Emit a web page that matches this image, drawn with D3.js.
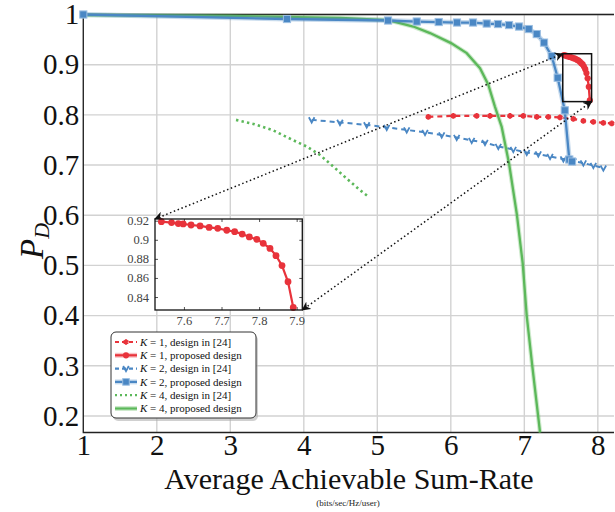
<!DOCTYPE html>
<html>
<head>
<meta charset="utf-8">
<script src="https://cdn.jsdelivr.net/npm/d3@7"></script>
<style>
body { margin: 0; background: #fff; }
svg { display: block; }
svg text { font-family: "Liberation Serif", "DejaVu Serif", serif !important; }
</style>
</head>
<body>
<svg id="chart" width="615" height="512"></svg>
<script>
// tick values
const xTicks = [1, 2, 3, 4, 5, 6, 7, 8];
const yTicks = [0.2, 0.3, 0.4, 0.5, 0.6, 0.7, 0.8, 0.9, 1];
const insetXTicks = [7.6, 7.7, 7.8, 7.9];
const insetYTicks = [0.84, 0.86, 0.88, 0.9, 0.92];

// K = 1, design in [24]
const k1RefX = [5.694, 6.034, 6.352, 6.533, 6.805, 6.986, 7.169, 7.327, 7.486, 7.667, 7.803, 7.939, 8.075, 8.189];
const k1RefY = [0.796, 0.798, 0.798, 0.798, 0.798, 0.798, 0.796, 0.796, 0.795, 0.792, 0.788, 0.786, 0.784, 0.783];

// K = 1, proposed design
const k1PropX = [7.540, 7.567, 7.585, 7.598, 7.619, 7.643, 7.667, 7.690, 7.714, 7.735, 7.755, 7.774, 7.794, 7.811, 7.829, 7.845, 7.861, 7.877, 7.891];
const k1PropY = [0.919, 0.918, 0.917, 0.9166, 0.9155, 0.9145, 0.913, 0.912, 0.910, 0.9085, 0.906, 0.903, 0.9005, 0.8963, 0.891, 0.8834, 0.873, 0.856, 0.829];

// K = 2, design in [24]
const k2RefX = [4.107, 4.492, 4.856, 5.128, 5.40, 5.649, 5.876, 6.080, 6.284, 6.465, 6.646, 6.850, 7.033, 7.190, 7.350, 7.531, 7.667, 7.803, 7.939, 8.075];
const k2RefY = [0.790, 0.785, 0.780, 0.775, 0.770, 0.765, 0.760, 0.755, 0.749, 0.745, 0.737, 0.731, 0.725, 0.722, 0.717, 0.712, 0.708, 0.704, 0.699, 0.694];

// K = 2, proposed design
const k2PropX = [1, 3.771, 5.146, 5.536, 5.835, 6.084, 6.302, 6.488, 6.642, 6.792, 6.928, 7.06, 7.169, 7.268, 7.373, 7.454, 7.55, 7.612, 7.649];
const k2PropY = [1.0, 0.991, 0.988, 0.986, 0.985, 0.984, 0.984, 0.982, 0.981, 0.979, 0.976, 0.971, 0.961, 0.944, 0.917, 0.874, 0.809, 0.711, 0.707];

// K = 4, design in [24]
const k4RefX = [3.078, 3.313, 3.585, 3.835, 4.039, 4.220, 4.401, 4.584, 4.764, 4.878];
const k4RefY = [0.790, 0.782, 0.769, 0.751, 0.737, 0.720, 0.697, 0.673, 0.650, 0.637];

// K = 4, proposed design
const k4PropX = [1, 3, 4.5, 5.146, 5.49, 5.717, 6.003, 6.216, 6.397, 6.51, 6.601, 6.692, 6.792, 6.897, 6.978, 7.033, 7.109, 7.214];
const k4PropY = [0.999, 0.997, 0.993, 0.989, 0.976, 0.963, 0.943, 0.923, 0.893, 0.86, 0.816, 0.776, 0.703, 0.603, 0.504, 0.399, 0.299, 0.167];

const legendLabels = [", design in [24]", ", proposed design", ", design in [24]", ", proposed design", ", design in [24]", ", proposed design"];
const legendK = ["1", "1", "2", "2", "4", "4"];

const RED = "#e8333b", BLUE = "#4a87c4", GREEN = "#5cb85a";

const svg = d3.select("#chart");
const x = d3.scaleLinear().domain([1, 8.22]).range([83.3, 614]);
const y = d3.scaleLinear().domain([0.167, 1]).range([432.5, 14.5]);

const zip = (xs, ys) => xs.map((v, i) => [v, ys[i]]);

// grid
svg.append("g").selectAll("line").data(xTicks).join("line")
	.attr("x1", d => x(d)).attr("x2", d => x(d))
	.attr("y1", y.range()[0]).attr("y2", y.range()[1])
	.attr("stroke", "#d2d2d2").attr("stroke-width", 1.4);
svg.append("g").selectAll("line").data(yTicks).join("line")
	.attr("y1", d => y(d)).attr("y2", d => y(d))
	.attr("x1", x.range()[0]).attr("x2", x.range()[1])
	.attr("stroke", "#d2d2d2").attr("stroke-width", 1.4);

// axes
let xAxis = svg.append("g").attr("transform", "translate(0," + y.range()[0] + ")")
	.call(d3.axisBottom(x).tickValues(xTicks).tickSize(0).tickPadding(2).tickFormat(d3.format("d")));
xAxis.select(".domain").remove();
xAxis.attr("font-family", null);
xAxis.selectAll("text").attr("font-size", 29).attr("fill", "#111");

let yAxis = svg.append("g").attr("transform", "translate(" + x.range()[0] + ",0)")
	.call(d3.axisLeft(y).tickValues(yTicks).tickSize(0).tickPadding(4).tickFormat(d => d === 1 ? "1" : d3.format(".1f")(d)));
yAxis.select(".domain").remove();
yAxis.attr("font-family", null);
yAxis.selectAll("text").attr("font-size", 29).attr("fill", "#111");

// frame
svg.append("path")
	.attr("d", "M" + x.range()[1] + "," + y.range()[1] + "H" + x.range()[0] + "V" + y.range()[0] + "H" + x.range()[1])
	.attr("fill", "none").attr("stroke", "#222").attr("stroke-width", 1.3);

// titles
svg.append("text").attr("x", 349).attr("y", 489).attr("text-anchor", "middle")
	.attr("font-size", 30).attr("fill", "#111").text("Average Achievable Sum-Rate");
svg.append("text").attr("x", 348).attr("y", 506).attr("text-anchor", "middle")
	.attr("font-size", 9).attr("fill", "#222").text("(bits/sec/Hz/user)");
let yl = svg.append("text").attr("transform", "translate(43,241) rotate(-90)")
	.attr("text-anchor", "middle").attr("font-size", 33).attr("fill", "#111");
yl.append("tspan").attr("font-style", "italic").text("P");
yl.append("tspan").attr("font-style", "italic").attr("font-size", 22).attr("dy", 6).text("D");

const line = d3.line().x(d => x(d[0])).y(d => y(d[1]));

function vMark(g, cx, cy, color) {
	g.append("path").attr("d", "M" + (cx - 2.8) + "," + (cy - 2.6) + "L" + cx + "," + (cy + 2.6) + "L" + (cx + 2.8) + "," + (cy - 2.6))
		.attr("fill", "none").attr("stroke", color).attr("stroke-width", 1.8);
}
const aster = d3.symbol().type(d3.symbolAsterisk).size(22);

const plot = svg.append("g");

// K = 4 design in [24]
plot.append("path").attr("d", line(zip(k4RefX, k4RefY)))
	.attr("fill", "none").attr("stroke", GREEN).attr("stroke-width", 2.6).attr("stroke-dasharray", "2.4,3.2");

// K = 2 design in [24]
plot.append("path").attr("d", line(zip(k2RefX, k2RefY)))
	.attr("fill", "none").attr("stroke", BLUE).attr("stroke-width", 2).attr("stroke-dasharray", "5,4");
zip(k2RefX, k2RefY).forEach(d => vMark(plot, x(d[0]), y(d[1]), BLUE));

// K = 1 design in [24]
plot.append("path").attr("d", line(zip(k1RefX, k1RefY)))
	.attr("fill", "none").attr("stroke", RED).attr("stroke-width", 2.2).attr("stroke-dasharray", "5,4");
plot.selectAll(".ast").data(zip(k1RefX, k1RefY)).join("path")
	.attr("transform", d => "translate(" + x(d[0]) + "," + y(d[1]) + ")")
	.attr("d", aster).attr("stroke", RED).attr("stroke-width", 2.2).attr("fill", RED);

// K = 4 proposed
plot.append("path").attr("d", line(zip(k4PropX, k4PropY)))
	.attr("fill", "none").attr("stroke", GREEN).attr("stroke-opacity", 0.3).attr("stroke-width", 4.5);
plot.append("path").attr("d", line(zip(k4PropX, k4PropY)))
	.attr("fill", "none").attr("stroke", GREEN).attr("stroke-width", 2.3);

// K = 2 proposed
plot.append("path").attr("d", line(zip(k2PropX, k2PropY)))
	.attr("fill", "none").attr("stroke", BLUE).attr("stroke-opacity", 0.3).attr("stroke-width", 5);
plot.append("path").attr("d", line(zip(k2PropX, k2PropY)))
	.attr("fill", "none").attr("stroke", BLUE).attr("stroke-width", 2.3);
plot.selectAll(".sq").data(zip(k2PropX, k2PropY)).join("rect")
	.attr("x", d => x(d[0]) - 3.6).attr("y", d => y(d[1]) - 3.6)
	.attr("width", 7.2).attr("height", 7.2)
	.attr("fill", BLUE).attr("stroke", "#9cbfe2").attr("stroke-width", 1);

// K = 1 proposed
plot.append("path").attr("d", line(zip(k1PropX, k1PropY)))
	.attr("fill", "none").attr("stroke", RED).attr("stroke-width", 2.3);
plot.selectAll(".circ").data(zip(k1PropX, k1PropY)).join("circle")
	.attr("cx", d => x(d[0])).attr("cy", d => y(d[1])).attr("r", 3.1).attr("fill", RED);

// inset
const xi = d3.scaleLinear().domain([7.523, 7.915]).range([155, 302.3]);
const yi = d3.scaleLinear().domain([0.8264, 0.9218]).range([310, 219]);

// zoom box on main chart
svg.append("rect")
	.attr("x", x(xi.domain()[0])).attr("y", y(yi.domain()[1]))
	.attr("width", x(xi.domain()[1]) - x(xi.domain()[0]))
	.attr("height", y(yi.domain()[0]) - y(yi.domain()[1]))
	.attr("fill", "none").attr("stroke", "#111").attr("stroke-width", 1.5);

// arrows
const defs = svg.append("defs");
defs.append("marker").attr("id", "arr").attr("viewBox", "0 0 10 10").attr("refX", 9).attr("refY", 5)
	.attr("markerWidth", 9).attr("markerHeight", 9).attr("markerUnits", "userSpaceOnUse").attr("orient", "auto-start-reverse")
	.append("path").attr("d", "M0,0 L10,5 L0,10 L3,5 Z").attr("fill", "#111");

const arrows = [
	[[x(xi.domain()[0]), y(yi.domain()[1])], [xi.range()[0], yi.range()[1]]],
	[[x(xi.domain()[1]), y(yi.domain()[0])], [xi.range()[1], yi.range()[0]]]
];
svg.append("g").selectAll("line").data(arrows).join("line")
	.attr("x1", d => d[0][0]).attr("y1", d => d[0][1])
	.attr("x2", d => d[1][0]).attr("y2", d => d[1][1])
	.attr("stroke", "#111").attr("stroke-width", 1.5).attr("stroke-dasharray", "1.5,2.6")
	.attr("marker-start", "url(#arr)").attr("marker-end", "url(#arr)");

const inset = svg.append("g");
inset.append("rect").attr("x", xi.range()[0]).attr("y", yi.range()[1])
	.attr("width", xi.range()[1] - xi.range()[0]).attr("height", yi.range()[0] - yi.range()[1])
	.attr("fill", "#fff");

const ixAxis = inset.append("g").attr("transform", "translate(0," + yi.range()[0] + ")")
	.call(d3.axisBottom(xi).tickValues(insetXTicks).tickSize(-3).tickPadding(6).tickFormat(d3.format(".1f")));
const ixTop = inset.append("g").attr("transform", "translate(0," + yi.range()[1] + ")")
	.call(d3.axisTop(xi).tickValues(insetXTicks).tickSize(-3).tickFormat(""));
const iyAxis = inset.append("g").attr("transform", "translate(" + xi.range()[0] + ",0)")
	.call(d3.axisLeft(yi).tickValues(insetYTicks).tickSize(-3).tickPadding(6).tickFormat(d => d === 0.9 ? "0.9" : d3.format(".2f")(d)));
const iyRight = inset.append("g").attr("transform", "translate(" + xi.range()[1] + ",0)")
	.call(d3.axisRight(yi).tickValues(insetYTicks).tickSize(-3).tickFormat(""));
[ixAxis, ixTop, iyAxis, iyRight].forEach(a => {
	a.select(".domain").remove();
	a.attr("font-family", null);
	a.selectAll("line").attr("stroke", "#555");
	a.selectAll("text").attr("font-size", 12.5).attr("fill", "#444");
});

inset.append("path").attr("d", d3.line().x(d => xi(d[0])).y(d => yi(d[1]))(zip(k1PropX, k1PropY)))
	.attr("fill", "none").attr("stroke", RED).attr("stroke-width", 2.2);
inset.selectAll("circle").data(zip(k1PropX, k1PropY)).join("circle")
	.attr("cx", d => xi(d[0])).attr("cy", d => yi(d[1])).attr("r", 3.4).attr("fill", RED);

inset.append("rect").attr("x", xi.range()[0]).attr("y", yi.range()[1])
	.attr("width", xi.range()[1] - xi.range()[0]).attr("height", yi.range()[0] - yi.range()[1])
	.attr("fill", "none").attr("stroke", "#111").attr("stroke-width", 1.3);

// legend
const leg = svg.append("g").attr("transform", "translate(111,332)");
leg.append("rect").attr("x", 2).attr("y", 3).attr("width", 145).attr("height", 86).attr("rx", 5)
	.attr("fill", "#aaa").attr("opacity", 0.55);
leg.append("rect").attr("width", 145).attr("height", 86).attr("rx", 5)
	.attr("fill", "#fff").attr("stroke", "#333").attr("stroke-width", 1);

const legStyle = [
	{c: RED, dash: "4,3", mark: "ast"},
	{c: RED, dash: null, mark: "circ"},
	{c: BLUE, dash: "4,3", mark: "v"},
	{c: BLUE, dash: null, mark: "sq"},
	{c: GREEN, dash: "2,3", mark: null},
	{c: GREEN, dash: null, mark: null}
];
legendLabels.forEach((lab, i) => {
	const cy = 10 + i * 13.3;
	const s = legStyle[i];
	if (!s.dash) leg.append("line").attr("x1", 4).attr("x2", 26).attr("y1", cy).attr("y2", cy)
		.attr("stroke", s.c).attr("stroke-opacity", 0.3).attr("stroke-width", 5);
	leg.append("line").attr("x1", 4).attr("x2", 26).attr("y1", cy).attr("y2", cy)
		.attr("stroke", s.c).attr("stroke-width", 2.2).attr("stroke-dasharray", s.dash);
	if (s.mark === "ast") leg.append("path").attr("transform", "translate(15," + cy + ")").attr("d", aster)
		.attr("stroke", s.c).attr("stroke-width", 2);
	if (s.mark === "circ") leg.append("circle").attr("cx", 15).attr("cy", cy).attr("r", 3.1).attr("fill", s.c);
	if (s.mark === "v") vMark(leg, 15, cy, s.c);
	if (s.mark === "sq") leg.append("rect").attr("x", 11.7).attr("y", cy - 3.3).attr("width", 6.6).attr("height", 6.6)
		.attr("fill", s.c).attr("stroke", "#9cbfe2");
	const t = leg.append("text").attr("x", 29).attr("y", cy + 3.8).attr("font-size", 11).attr("fill", "#111");
	t.append("tspan").attr("font-style", "italic").text("K");
	t.append("tspan").text(" = " + legendK[i] + lab);
});
</script>
</body>
</html>
